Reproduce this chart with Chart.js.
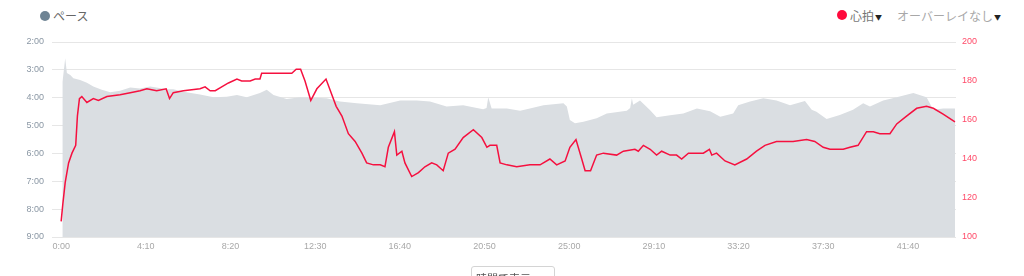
<!DOCTYPE html>
<html>
<head>
<meta charset="utf-8">
<script src="https://cdn.jsdelivr.net/npm/chart.js@4"></script>
<style>
  body { margin: 0; width: 1024px; height: 276px; overflow: hidden; background: #fff;
         font-family: "Noto Sans CJK JP", "Noto Sans", sans-serif; position: relative; }
  canvas { position: absolute; left: 0; top: 0; }
  .leg { position: absolute; font-size: 12px; line-height: 14px; white-space: nowrap; }
  .dot { position: absolute; width: 10px; height: 10px; border-radius: 50%; }
  .caret { font-size: 7px; color: #222; vertical-align: 1px; margin-left: 1px; }
  .select { position: absolute; left: 471px; top: 266px; width: 84px; height: 22px;
            border: 1px solid #d4d4d4; border-radius: 3px; font-size: 11px; color: #555;
            padding: 3px 0 0 4px; box-sizing: border-box; }
  .select span { position: absolute; right: 4px; top: 1px; font-size: 10px; color: #666; }
</style>
</head>
<body>
<div class="dot" style="left:40px; top:11px; background:#6f8494;"></div>
<div class="leg" style="left:53px; top:9px; color:#666;">ペース</div>

<div class="dot" style="left:837px; top:10px; background:#ff0a3c;"></div>
<div class="leg" style="left:850px; top:9px; color:#777;">心拍<span class="caret">▼</span></div>
<div class="leg" style="left:897px; top:9px; color:#a8a8a8;">オーバーレイなし<span class="caret">▼</span></div>

<canvas id="paceChart" width="1024" height="276"></canvas>

<div class="select">時間で表示<span>⌄</span></div>

<script>
// elapsed time in seconds, pace in sec/km
const paceTimes = [
  3, 4, 12, 17, 27, 36, 56, 76, 95, 120,
  145, 174, 204, 233, 263, 312, 331, 361, 410, 450,
  489, 519, 548, 587, 607, 627, 666, 705, 745, 784,
  823, 873, 942, 1001, 1050, 1089, 1138, 1187, 1246, 1256,
  1261, 1271, 1316, 1355, 1384, 1424, 1483, 1493, 1502, 1517,
  1542, 1581, 1611, 1670, 1680, 1685, 1689, 1709, 1739, 1758,
  1798, 1837, 1877, 1916, 1946, 1984, 1999, 2034, 2073, 2112,
  2152, 2196, 2216, 2230, 2260, 2299, 2338, 2368, 2388, 2427,
  2467, 2516, 2555, 2575, 2604, 2639
];
const paceValues = [
  540, 206, 155, 187, 191, 198, 202, 208, 216, 223,
  228, 225, 218, 220, 216, 222, 222, 227, 233, 239,
  238, 234, 239, 230, 223, 234, 243, 239, 240, 241,
  248, 252, 256, 246, 246, 248, 259, 256, 265, 262,
  239, 263, 263, 268, 263, 256, 252, 259, 288, 295,
  292, 284, 274, 268, 262, 241, 255, 246, 267, 282,
  278, 274, 263, 269, 281, 274, 256, 248, 241, 246,
  256, 247, 266, 270, 286, 277, 266, 252, 259, 246,
  239, 230, 239, 266, 263, 263
];

// heart rate (bpm)
const hrTimes = [
  0, 5, 12, 22, 32, 43, 48, 54, 61, 76,
  95, 110, 135, 174, 204, 233, 253, 282, 310, 320,
  331, 361, 410, 425, 440, 455, 474, 494, 519, 533,
  558, 573, 587, 592, 627, 666, 681, 694, 707, 720,
  737, 755, 782, 812, 829, 848, 868, 888, 902, 922,
  942, 956, 966, 984, 991, 1006, 1015, 1035, 1055, 1074,
  1094, 1109, 1128, 1143, 1163, 1187, 1217, 1242, 1257, 1266,
  1286, 1296, 1316, 1345, 1384, 1414, 1443, 1463, 1488, 1502,
  1520, 1537, 1547, 1563, 1581, 1601, 1640, 1660, 1694, 1704,
  1719, 1739, 1758, 1773, 1798, 1817, 1832, 1852, 1896, 1914,
  1921, 1935, 1960, 1989, 2024, 2053, 2078, 2112, 2161, 2201,
  2225, 2250, 2270, 2309, 2329, 2353, 2378, 2398, 2417, 2447,
  2467, 2496, 2526, 2555, 2575, 2604, 2639
];
const hrValues = [
  108, 117, 128, 138, 143, 147, 162, 171, 172, 169,
  171, 170, 172, 173, 174, 175, 176, 175, 176, 171,
  174, 175, 176, 177, 175, 175, 177, 179, 181, 180,
  180, 181, 181, 184, 184, 184, 184, 186, 186, 180,
  170, 176, 181, 167, 162, 153, 149, 143, 138, 137,
  137, 136, 146, 154, 142, 144, 138, 131, 133, 136,
  138, 137, 134, 143, 145, 151, 155, 151, 146, 147,
  147, 138, 137, 136, 137, 137, 140, 137, 139, 146,
  150, 140, 134, 134, 142, 143, 142, 144, 145, 144,
  147, 145, 142, 144, 142, 142, 140, 143, 143, 145,
  142, 143, 139, 137, 140, 144, 147, 149, 149, 150,
  149, 146, 145, 145, 146, 147, 154, 154, 153, 153,
  158, 162, 166, 167, 166, 163, 159
];

// axis ticks
const timeTicks = [0, 250, 500, 750, 1000, 1250, 1500, 1750, 2000, 2250, 2500];
const paceTicks = [120, 180, 240, 300, 360, 420, 480, 540];
const hrTicks = [100, 120, 140, 160, 180, 200];

function mmss(sec) {
  const m = Math.floor(sec / 60);
  const s = Math.round(sec % 60);
  return m + ":" + String(s).padStart(2, "0");
}

const tickFont = { family: "'Liberation Sans', Arial, sans-serif", size: 9 };

const ctx = document.getElementById("paceChart");

new Chart(ctx, {
  type: "line",
  data: {
    datasets: [
      {
        label: "心拍",
        data: hrTimes.map((t, i) => ({ x: t, y: hrValues[i] })),
        yAxisID: "yHr",
        borderColor: "#f5103f",
        borderWidth: 1.5,
        pointRadius: 0,
        tension: 0,
        fill: false,
        order: 1
      },
      {
        label: "ペース",
        data: paceTimes.map((t, i) => ({ x: t, y: paceValues[i] })),
        yAxisID: "yPace",
        backgroundColor: "#dadee2",
        borderWidth: 0,
        pointRadius: 0,
        tension: 0,
        fill: "start",
        order: 2
      }
    ]
  },
  options: {
    responsive: false,
    animation: false,
    devicePixelRatio: 1,
    layout: { padding: { top: 42, left: 0, right: 0, bottom: 0 } },
    plugins: {
      legend: { display: false },
      tooltip: { enabled: false }
    },
    scales: {
      x: {
        type: "linear",
        min: -27,
        max: 2642,
        afterBuildTicks: (scale) => { scale.ticks = timeTicks.map(v => ({ value: v })); },
        afterFit: (scale) => { scale.height = 39; },
        grid: { display: false, drawTicks: false },
        border: { display: false },
        ticks: { color: "#a8a8a8", font: tickFont, padding: 4, maxRotation: 0, autoSkip: false,
                 callback: (v) => mmss(v) }
      },
      yPace: {
        position: "left",
        reverse: true,
        min: 120,
        max: 540,
        afterBuildTicks: (scale) => { scale.ticks = paceTicks.map(v => ({ value: v })); },
        afterFit: (scale) => { scale.width = 52; },
        grid: { color: "#e6e6e6", drawTicks: false },
        border: { display: false },
        ticks: { color: "#8a97a4", font: tickFont, padding: 8, callback: (v) => mmss(v) }
      },
      yHr: {
        position: "right",
        min: 100,
        max: 200,
        afterBuildTicks: (scale) => { scale.ticks = hrTicks.map(v => ({ value: v })); },
        afterFit: (scale) => { scale.width = 68; },
        grid: { display: false, drawTicks: false },
        border: { display: false },
        ticks: { color: "#ff4a68", font: tickFont, padding: 6 }
      }
    }
  }
});
</script>
</body>
</html>
